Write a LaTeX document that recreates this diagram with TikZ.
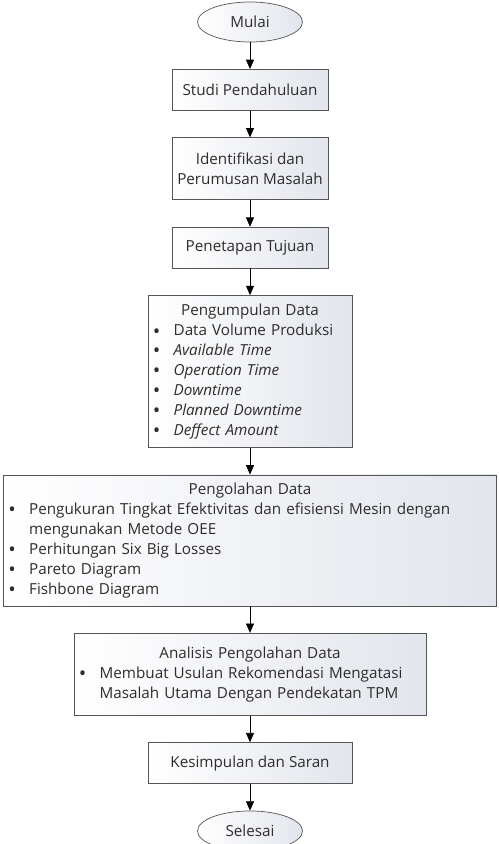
\documentclass[tikz,border=0pt]{standalone}
\usepackage{fontspec}
\setmainfont{Open Sans}
\usetikzlibrary{positioning,arrows.meta,shapes.geometric}

\definecolor{boxline}{RGB}{85,85,85}
\definecolor{boxshade}{RGB}{226,229,236}
\definecolor{teks}{RGB}{45,45,45}

\newcommand{\bul}[1]{\makebox[0.62cm][l]{\raisebox{-0.3ex}{\fontsize{17}{17}\selectfont\textbullet}}#1}
\newcommand{\lanjut}[1]{\hspace*{0.62cm}#1}
\newcommand{\judul}[1]{\makebox[\linewidth]{#1}}

\begin{document}
\begin{tikzpicture}[
node distance=0.8cm,
>={Triangle[length=0.28cm,width=0.24cm]},
font=\fontsize{13}{17}\selectfont,
text=teks,
box/.style={
draw=boxline,
line width=0.6pt,
left color=white,
right color=boxshade,
minimum height=1.23cm,
inner xsep=0.15cm,
align=center},
terminal/.style={
ellipse,
draw=boxline,
line width=0.6pt,
left color=white,
right color=boxshade,
minimum width=3.15cm,
minimum height=1.2cm}
]

\useasboundingbox (-7.5,0.66) rectangle (7.44,-24.66);

\node[terminal] (mulai) {Mulai};

\node[box, minimum width=4.68cm, below=of mulai] (studi) {Studi Pendahuluan};

\node[box, minimum width=4.68cm, minimum height=1.86cm, below=of studi] (identifikasi) {Identifikasi dan\\Perumusan Masalah};

\node[box, minimum width=4.68cm, below=of identifikasi] (tujuan) {Penetapan Tujuan};

\node[box, text width=5.82cm, minimum height=4.56cm, align=left, below=of tujuan] (pengumpulan) {
\judul{Pengumpulan Data}\\
\bul{Data Volume Produksi}\\
\bul{\textit{Available Time}}\\
\bul{\textit{Operation Time}}\\
\bul{\textit{Downtime}}\\
\bul{\textit{Planned Downtime}}\\
\bul{\textit{Deffect Amount}}};

\node[box, text width=14.49cm, minimum height=3.93cm, align=left, below=of pengumpulan] (pengolahan) {
\judul{Pengolahan Data}\\
\bul{Pengukuran Tingkat Efektivitas dan efisiensi Mesin dengan}\\
\lanjut{mengunakan Metode OEE}\\
\bul{Perhitungan Six Big Losses}\\
\bul{Pareto Diagram}\\
\bul{Fishbone Diagram}};

\node[box, text width=10.26cm, minimum height=2.46cm, align=left, below=of pengolahan] (analisis) {
\judul{Analisis Pengolahan Data}\\
\bul{Membuat Usulan Rekomendasi Mengatasi}\\
\lanjut{Masalah Utama Dengan Pendekatan TPM}};

\node[box, minimum width=6.12cm, below=of analisis] (kesimpulan) {Kesimpulan dan Saran};

\node[terminal, below=of kesimpulan] (selesai) {Selesai};

\draw[->,semithick] (mulai)--(studi);
\draw[->,semithick] (studi)--(identifikasi);
\draw[->,semithick] (identifikasi)--(tujuan);
\draw[->,semithick] (tujuan)--(pengumpulan);
\draw[->,semithick] (pengumpulan)--(pengolahan);
\draw[->,semithick] (pengolahan)--(analisis);
\draw[->,semithick] (analisis)--(kesimpulan);
\draw[->,semithick] (kesimpulan)--(selesai);

\end{tikzpicture}
\end{document}
